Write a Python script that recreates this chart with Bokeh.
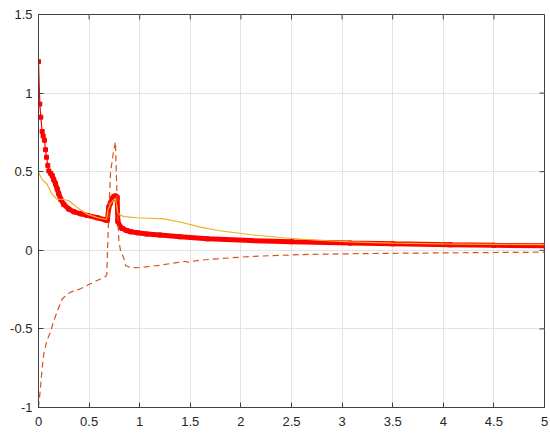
import math
from bokeh.plotting import figure
from bokeh.models import FixedTicker, LinearAxis, Range1d
from bokeh.embed import file_html
from bokeh.resources import INLINE

# ---- data ----
red_x = [0, 0.013, 0.023, 0.036, 0.046, 0.059, 0.069, 0.079, 0.092, 0.102, 0.12, 0.135,
         0.15, 0.168, 0.185, 0.2, 0.22, 0.25, 0.3, 0.35, 0.42, 0.48, 0.58, 0.66, 0.68,
         0.695, 0.71, 0.728, 0.745, 0.76, 0.777, 0.784, 0.81, 0.83, 0.87, 0.91, 0.98,
         1.07, 1.2, 1.4, 1.67, 2.1, 2.5, 3.08, 3.5, 4.07, 4.5, 5.0]
red_y = [1.2, 0.93, 0.847, 0.756, 0.727, 0.7, 0.64, 0.592, 0.54, 0.505, 0.49, 0.476,
         0.45, 0.423, 0.39, 0.36, 0.325, 0.292, 0.262, 0.245, 0.232, 0.222, 0.207, 0.193, 0.19,
         0.274, 0.30, 0.328, 0.342, 0.346, 0.338, 0.185, 0.147, 0.138, 0.126, 0.118, 0.111,
         0.104, 0.097, 0.086, 0.073, 0.062, 0.055, 0.046, 0.041, 0.035, 0.032, 0.029]

yel_x = [0, 0.036, 0.085, 0.135, 0.185, 0.25, 0.3, 0.35, 0.4, 0.48, 0.58, 0.672, 0.685,
         0.711, 0.745, 0.76, 0.784, 0.81, 0.85, 0.975, 1.1, 1.24, 1.4, 1.6, 1.77, 2.1,
         2.42, 2.75, 3.08, 3.5, 4.0, 4.5, 5.0]
yel_y = [0.495, 0.45, 0.42, 0.355, 0.325, 0.323, 0.315, 0.29, 0.265, 0.23, 0.208, 0.196, 0.255,
         0.295, 0.322, 0.33, 0.236, 0.222, 0.214, 0.207, 0.204, 0.2, 0.18, 0.147, 0.126, 0.099,
         0.08, 0.064, 0.053, 0.046, 0.041, 0.038, 0.036]

dash_x = [0, 0.02, 0.036, 0.052, 0.085, 0.119, 0.15, 0.185, 0.233, 0.25, 0.316, 0.415, 0.514,
          0.58, 0.662, 0.675, 0.685, 0.711, 0.738, 0.76, 0.777, 0.794, 0.81, 0.843, 0.86, 0.9,
          0.975, 1.1, 1.2, 1.35, 1.45, 1.47, 1.5, 1.6, 1.77, 2.1, 2.6, 3.08, 3.5, 4.07, 4.5, 5.0]
dash_y = [-1.0, -0.87, -0.75, -0.66, -0.57, -0.52, -0.45, -0.39, -0.31, -0.3, -0.266, -0.245, -0.213,
          -0.192, -0.167, -0.155, 0.06, 0.49, 0.614, 0.69, 0.317, 0.062, 0.0, -0.05, -0.097, -0.108,
          -0.111, -0.103, -0.095, -0.08, -0.07, -0.076, -0.072, -0.063, -0.054, -0.039, -0.027,
          -0.022, -0.019, -0.016, -0.014, -0.012]

x_ticks = [0, 0.5, 1, 1.5, 2, 2.5, 3, 3.5, 4, 4.5, 5]
x_labels = ["0", "0.5", "1", "1.5", "2", "2.5", "3", "3.5", "4", "4.5", "5"]
y_ticks = [-1, -0.5, 0, 0.5, 1, 1.5]
y_labels = ["-1", "-0.5", "0", "0.5", "1", "1.5"]
x_lim = (0, 5)
y_lim = (-1, 1.5)

FONT = "Liberation Sans"
AX = "#404040"

p = figure(width=548, height=437, output_backend="svg", toolbar_location=None,
           x_range=Range1d(*x_lim), y_range=Range1d(*y_lim),
           min_border_left=38, min_border_right=4, min_border_top=14, min_border_bottom=30,
           x_axis_location=None, y_axis_location=None)
p.background_fill_color = "white"
p.border_fill_color = "white"
p.outline_line_color = AX
p.outline_line_width = 1


def style_axis(ax, ticks, labels):
    ax.ticker = FixedTicker(ticks=ticks)
    ax.major_label_overrides = {t: l for t, l in zip(ticks, labels)}
    ax.axis_line_color = AX
    ax.major_tick_line_color = AX
    ax.major_tick_in = 5
    ax.major_tick_out = 0
    ax.minor_tick_line_color = None
    ax.major_label_text_font = FONT
    ax.major_label_text_color = "#262626"
    ax.major_label_text_font_size = "13px"


xb = LinearAxis()
style_axis(xb, x_ticks, x_labels)
xb.major_label_standoff = 9
p.add_layout(xb, "below")
yl = LinearAxis()
style_axis(yl, y_ticks, y_labels)
yl.major_label_standoff = 6
p.add_layout(yl, "left")

# inward ticks on the top and right edges of the box
p.ray(x=x_ticks, y=[y_lim[1]] * len(x_ticks), length=5, length_units="screen",
      angle=-math.pi / 2, line_color=AX, line_width=1)
p.ray(x=[x_lim[1]] * len(y_ticks), y=y_ticks, length=5, length_units="screen",
      angle=math.pi, line_color=AX, line_width=1)

p.xgrid.ticker = FixedTicker(ticks=x_ticks)
p.ygrid.ticker = FixedTicker(ticks=y_ticks)
p.xgrid.grid_line_color = "#e3e3e3"
p.ygrid.grid_line_color = "#e3e3e3"

RED = "#ff0000"
p.line(red_x, red_y, line_color=RED, line_width=1.2)
p.line(red_x[10:], red_y[10:], line_color=RED, line_width=5)
p.scatter(red_x, red_y, size=4, marker="square", fill_color=RED, line_color=RED)
p.line(dash_x, dash_y, line_color="#d95319", line_width=1.2, line_dash="6 4")
p.line(yel_x, yel_y, line_color="#edb120", line_width=1.2)

open("out.html", "w").write(file_html(p, INLINE))
